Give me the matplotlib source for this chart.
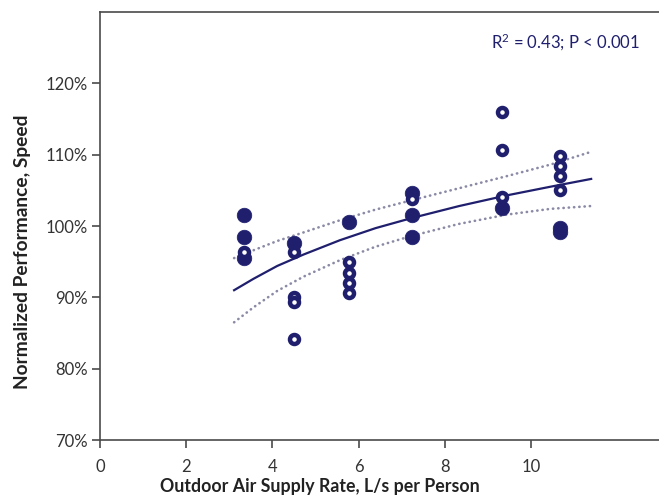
import matplotlib
matplotlib.use("Agg")
import matplotlib.pyplot as plt

# ---- data ----
filled_x = [3.33, 3.33, 3.33, 4.49, 5.78, 7.24, 7.24, 7.24, 9.33, 10.67, 10.67]
filled_y = [101.5, 98.5, 95.5, 97.6, 100.6, 104.6, 101.5, 98.5, 102.5, 99.7, 99.2]

open_x = [3.33, 4.49, 4.49, 4.49, 4.49, 5.78, 5.78, 5.78, 5.78, 7.24, 9.33, 9.33, 9.33,
          10.67, 10.67, 10.67, 10.67]
open_y = [96.4, 96.4, 90.1, 89.3, 84.2, 95.0, 93.4, 92.0, 90.6, 103.8, 116.0, 110.7, 104.1,
          109.8, 108.4, 107.0, 105.0]

curve_x = [3.11, 3.56, 4.11, 4.72, 5.56, 6.39, 7.22, 8.33, 9.44, 10.44, 11.39]
fit_y = [91.0, 92.6, 94.4, 96.0, 98.0, 99.7, 101.1, 102.8, 104.3, 105.5, 106.6]
upper_y = [95.5, 96.6, 97.9, 99.1, 100.8, 102.3, 103.6, 105.3, 107.0, 108.6, 110.4]
lower_y = [86.5, 88.6, 90.9, 92.9, 95.2, 97.1, 98.6, 100.3, 101.6, 102.4, 102.8]

x_ticks = [0, 2, 4, 6, 8, 10]
y_ticks = [70, 80, 90, 100, 110, 120]
y_tick_labels = ["70%", "80%", "90%", "100%", "110%", "120%"]
annotation = r"R$^{2}$ = 0.43; P < 0.001"
x_label = "Outdoor Air Supply Rate, L/s per Person"
y_label = "Normalized Performance, Speed"

navy = "#1f1f6e"
dotc = "#8a8aa6"
spine_c = "#4a4a4a"

plt.rcParams['font.family'] = ['Lato', 'DejaVu Sans']
plt.rcParams['mathtext.fontset'] = 'custom'
plt.rcParams['mathtext.rm'] = 'Lato'
plt.rcParams['mathtext.it'] = 'Lato:italic'
plt.rcParams['mathtext.bf'] = 'Lato:bold'
plt.rcParams['mathtext.default'] = 'rm'

W, H = 659, 499
fig = plt.figure(figsize=(W / 100, H / 100), dpi=100)
left_px, right_px, top_px, bot_px = 100, 659, 12, 440
ax = fig.add_axes([left_px / W, 1 - bot_px / H, (right_px - left_px) / W, (bot_px - top_px) / H])
aw = right_px - left_px
ah = bot_px - top_px

ax.set_xlim(0, (right_px - 99) / 43.2)
ax.set_ylim(70, 130)

for yy in (upper_y, lower_y):
    ax.plot(curve_x, yy, color=dotc, lw=1.9, linestyle=(0, (0.1, 1.9)),
            dash_capstyle='round', zorder=2)
ax.plot(curve_x, fit_y, color=navy, lw=1.6, zorder=3)

ax.plot(filled_x, filled_y, linestyle='none', marker='o', ms=10.5, mfc=navy, mec=navy, mew=0.5, zorder=4)
ax.plot(open_x, open_y, linestyle='none', marker='o', ms=6.5, mfc='white', mec=navy, mew=3.2, zorder=5)

ax.set_xticks(x_ticks)
ax.set_xticklabels([str(t) for t in x_ticks])
ax.set_yticks(y_ticks)
ax.set_yticklabels(y_tick_labels)

for s in ['left', 'bottom', 'top']:
    ax.spines[s].set_color(spine_c)
    ax.spines[s].set_linewidth(1.2)
ax.spines['right'].set_visible(False)

ax.tick_params(axis='both', which='major', direction='out', length=6, width=1.2,
               color=spine_c, labelcolor='#333333', labelsize=12)
ax.tick_params(axis='y', pad=3)
ax.tick_params(axis='x', pad=8)

ax.set_xlabel(x_label, fontsize=12.8, fontweight='bold', color='#222222')
ax.set_ylabel(y_label, fontsize=13.8, fontweight='bold', color='#222222')
ax.xaxis.set_label_coords((320 - left_px) / aw, -(478 - bot_px) / ah)
ax.yaxis.set_label_coords(-(left_px - 31) / aw, (bot_px - 252) / ah)

ax.text((640 - left_px) / aw, (bot_px - 42) / ah, annotation,
        transform=ax.transAxes, ha='right', va='center', fontsize=12, color=navy)

fig.savefig("out.png", dpi=100)
